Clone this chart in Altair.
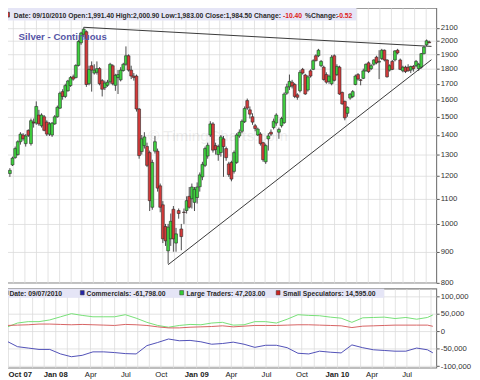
import altair as alt
import pandas as pd

# ---------------- data ----------------
last_date = "2010-09-10"

opens = [
    1210, 1250, 1285, 1300, 1365, 1400, 1355, 1425, 1355, 1470,
    1465, 1510, 1450, 1500, 1470, 1405, 1400, 1460, 1500, 1550,
    1650, 1620, 1655, 1688, 1745, 1740, 1822, 1985, 2050, 2070,
    1700, 1820, 1770, 1775, 1800, 1720, 1675, 1690, 1712, 1820,
    1690, 1740, 1725, 1787, 1830, 1890, 1790, 1750, 1750, 1545,
    1315, 1345, 1341, 1310, 1065, 1317, 1317, 1155, 1075, 990,
    903, 945, 1057, 930, 1052, 981, 1046, 1052, 1110, 1100,
    1085, 1105, 1151, 1195, 1248, 1293, 1400, 1460, 1345, 1300,
    1310, 1380, 1330, 1255, 1262, 1220, 1262, 1395, 1420, 1472,
    1595, 1540, 1500, 1450, 1400, 1405, 1360, 1265, 1380, 1415,
    1440, 1465, 1415, 1450, 1467, 1640, 1680, 1710, 1695, 1630,
    1655, 1795, 1757, 1660, 1785, 1795, 1890, 1890, 1820, 1810,
    1760, 1715, 1700, 1890, 1760, 1810, 1645, 1590, 1520, 1610,
    1620, 1695, 1760, 1725, 1735, 1785, 1840, 1800, 1830, 1880,
    1845, 1870, 1930, 1860, 1790, 1850, 1860, 1930, 1860, 1785,
    1810, 1810, 1790, 1815, 1820, 1800, 1810, 1905, 1970, 1991.4,
]
highs = [
    1235, 1290, 1340, 1372, 1415, 1410, 1405, 1430, 1490, 1490,
    1590, 1540, 1520, 1510, 1480, 1470, 1470, 1510, 1565, 1650,
    1665, 1700, 1725, 1750, 1760, 1830, 2005, 2070, 2105, 2080,
    1820, 1850, 1830, 1850, 1810, 1730, 1720, 1725, 1840, 1830,
    1765, 1790, 1810, 1840, 1958, 1900, 1820, 1770, 1760, 1550,
    1400, 1415, 1360, 1320, 1275, 1395, 1330, 1165, 1090, 1000,
    1000, 1040, 1070, 985, 1060, 1000, 1060, 1110, 1150, 1165,
    1150, 1170, 1215, 1265, 1340, 1360, 1475, 1470, 1360, 1350,
    1400, 1395, 1340, 1265, 1270, 1320, 1410, 1430, 1485, 1560,
    1607, 1560, 1520, 1460, 1440, 1415, 1365, 1355, 1410, 1430,
    1490, 1520, 1440, 1500, 1645, 1700, 1760, 1725, 1705, 1640,
    1790, 1805, 1765, 1755, 1795, 1865, 1900, 1940, 1860, 1820,
    1775, 1760, 1895, 1900, 1830, 1820, 1650, 1595, 1560, 1640,
    1660, 1760, 1770, 1730, 1800, 1835, 1850, 1830, 1865, 1890,
    1930, 1940, 1935, 1865, 1830, 1860, 1930, 1940, 1870, 1820,
    1820, 1830, 1820, 1825, 1860, 1840, 1910, 1960, 2010, 2000.9,
]
lows = [
    1195, 1245, 1280, 1295, 1350, 1370, 1340, 1390, 1345, 1440,
    1455, 1450, 1440, 1420, 1395, 1395, 1390, 1455, 1495, 1545,
    1600, 1610, 1650, 1680, 1720, 1735, 1815, 1970, 2030, 1680,
    1690, 1650, 1760, 1760, 1690, 1620, 1660, 1680, 1700, 1690,
    1655, 1635, 1715, 1780, 1820, 1780, 1730, 1720, 1530, 1280,
    1300, 1330, 1240, 1050, 1055, 1305, 1130, 1045, 930, 920,
    860, 920, 900, 900, 1020, 905, 1000, 1040, 1060, 1060,
    1050, 1080, 1130, 1180, 1240, 1280, 1390, 1310, 1300, 1270,
    1290, 1195, 1270, 1195, 1175, 1210, 1255, 1385, 1410, 1465,
    1540, 1490, 1455, 1420, 1395, 1345, 1265, 1255, 1320, 1395,
    1430, 1450, 1380, 1440, 1460, 1630, 1660, 1670, 1610, 1600,
    1645, 1760, 1630, 1650, 1740, 1790, 1850, 1880, 1810, 1720,
    1700, 1700, 1690, 1715, 1750, 1630, 1570, 1480, 1500, 1600,
    1610, 1690, 1720, 1690, 1730, 1780, 1770, 1790, 1820, 1830,
    1730, 1860, 1850, 1740, 1780, 1790, 1850, 1900, 1790, 1775,
    1770, 1780, 1770, 1780, 1810, 1785, 1800, 1900, 1960, 1983,
]
closes = [
    1225, 1283, 1330, 1365, 1405, 1380, 1395, 1398, 1478, 1465,
    1560, 1460, 1510, 1425, 1405, 1460, 1465, 1500, 1555, 1640,
    1620, 1688, 1718, 1740, 1730, 1822, 1995, 2060, 2090, 1695,
    1795, 1790, 1790, 1800, 1700, 1665, 1705, 1710, 1830, 1700,
    1755, 1760, 1790, 1830, 1890, 1790, 1750, 1740, 1545, 1295,
    1380, 1390, 1248, 1092, 1262, 1365, 1145, 1065, 945, 938,
    988, 1010, 945, 963, 1040, 953, 1044, 1092, 1065, 1150,
    1140, 1150, 1204, 1253, 1330, 1347, 1460, 1322, 1325, 1340,
    1390, 1340, 1285, 1205, 1185, 1310, 1400, 1415, 1475, 1548,
    1550, 1515, 1470, 1435, 1432, 1355, 1275, 1345, 1395, 1405,
    1475, 1510, 1430, 1490, 1635, 1680, 1715, 1685, 1620, 1615,
    1775, 1770, 1635, 1745, 1750, 1855, 1855, 1930, 1850, 1727,
    1710, 1750, 1880, 1722, 1815, 1635, 1575, 1494, 1555, 1635,
    1650, 1750, 1730, 1722, 1785, 1830, 1780, 1820, 1860, 1840,
    1850, 1930, 1860, 1745, 1820, 1795, 1925, 1910, 1795, 1810,
    1780, 1785, 1815, 1800, 1850, 1830, 1905, 1953, 2000, 1984.5,
]

cot_dates = [
    "2007-08-28", "2007-09-25", "2007-10-23", "2007-11-20", "2007-12-18",
    "2008-01-15", "2008-02-12", "2008-03-11", "2008-04-08", "2008-05-06",
    "2008-06-03", "2008-07-01", "2008-07-29", "2008-08-26", "2008-09-23",
    "2008-10-21", "2008-11-18", "2008-12-16", "2009-01-13", "2009-02-10",
    "2009-03-10", "2009-04-07", "2009-05-05", "2009-06-02", "2009-06-30",
    "2009-07-28", "2009-08-25", "2009-09-22", "2009-10-20", "2009-11-17",
    "2009-12-15", "2010-01-12", "2010-02-09", "2010-03-09", "2010-04-06",
    "2010-05-04", "2010-06-01", "2010-06-29", "2010-07-27", "2010-08-24",
    "2010-09-07",
]
commercials = [
    -28000, -44000, -48000, -52000, -52000, -65000, -73000, -69000, -59000, -59000,
    -61000, -64000, -65000, -41000, -32000, -22000, -27000, -26000, -30000, -37000,
    -35000, -31000, -37000, -46000, -40000, -40000, -47000, -63000, -65000, -57000,
    -60000, -62000, -39000, -47000, -53000, -55000, -57000, -57000, -48000, -53000,
    -61798,
]
large_traders = [
    12000, 24000, 28000, 28000, 33000, 42000, 51000, 46000, 42000, 42000,
    42000, 48000, 38000, 26000, 17000, 12000, 17000, 20000, 19000, 24000,
    26000, 18000, 19000, 28000, 28000, 24000, 35000, 48000, 46000, 45000,
    41000, 38000, 26000, 39000, 40000, 41000, 37000, 40000, 35000, 40000,
    47203,
]
small_speculators = [
    17000, 18000, 19000, 21000, 21000, 20000, 19000, 20000, 19000, 18000,
    17000, 20000, 19000, 17000, 13000, 10000, 10000, 12000, 13000, 14000,
    16000, 13000, 15000, 17000, 17000, 17000, 18000, 19000, 19000, 18000,
    17000, 16000, 11000, 15000, 16000, 17000, 18000, 18000, 18000, 18000,
    14595,
]

series_names = ["Commercials", "Large Traders", "Small Speculators"]
series_colors = ["#4b4bb5", "#72df72", "#d55f5f"]

price_ticks = [800, 900, 1000, 1100, 1200, 1300, 1400, 1500, 1600, 1700,
               1800, 1900, 2000, 2100]
cot_ticks = [-100000, -50000, 0, 50000, 100000]

trend_from = ["2008-03-07", "2008-10-17"]
trend_from_val = [2105, 857]
trend_to = ["2010-09-16", "2010-09-16"]
trend_to_val = [1958, 1862]

# ---------------- build ----------------
FONT = "Liberation Sans"
GREEN = "#3fd03f"
RED = "#d43a3a"
DARK = "#2a2a2a"
BAND = "#e5e5f6"
W, H_TOP, H_BOT = 449, 285, 82

dates = pd.date_range(end=last_date, periods=len(opens), freq="7D")
price = pd.DataFrame({"date": dates, "open": opens, "high": highs,
                      "low": lows, "close": closes})

cot = pd.DataFrame({"date": pd.to_datetime(cot_dates),
                    "Commercials": commercials,
                    "Large Traders": large_traders,
                    "Small Speculators": small_speculators})
cot_long = cot.melt("date", var_name="series", value_name="value")

trend = pd.DataFrame({"d1": pd.to_datetime(trend_from), "v1": trend_from_val,
                      "d2": pd.to_datetime(trend_to), "v2": trend_to_val})

xscale = alt.Scale(domain=[alt.DateTime(year=2007, month=8, date=19),
                           alt.DateTime(year=2010, month=9, date=16)], nice=False)
months = pd.date_range("2007-09-01", "2010-09-01", freq="MS")
month_vals = [alt.DateTime(year=m.year, month=m.month, date=1) for m in months]

top_xaxis = alt.Axis(values=month_vals, labels=False, ticks=False, domain=False,
                     grid=True, title=None)
ylog = alt.Scale(type="log", domain=[800, 2265], nice=False)
top_yaxis = alt.Axis(orient="right", values=price_ticks, format="d", tickSize=3,
                     domain=False, grid=True, labelPadding=1, title=None)

one = pd.DataFrame({"k": [0]})


def px_text(txt, x, y, size=7, color=DARK, weight="bold"):
    return alt.Chart(one).mark_text(align="left", baseline="alphabetic",
                                    fontSize=size, fontWeight=weight,
                                    color=color, font=FONT).encode(
        x=alt.value(x), y=alt.value(y), text=alt.value(txt))


def px_rect(x1, x2, y1, y2, fill, stroke=None, sw=0.0):
    kw = {"fill": fill}
    if stroke:
        kw.update(stroke=stroke, strokeWidth=sw)
    return alt.Chart(one).mark_rect(**kw).encode(
        x=alt.value(x1), x2=alt.value(x2), y=alt.value(y1), y2=alt.value(y2))


watermark = alt.Chart(one).mark_text(align="left", baseline="middle", fontSize=16,
                                     color="#000000", opacity=0.06, font=FONT).encode(
    x=alt.value(150), y=alt.value(133), text=alt.value("\u00a9 TimingCharts.com"))

wicks = alt.Chart(price).mark_rule(color="#333333", strokeWidth=0.9).encode(
    x=alt.X("date:T", scale=xscale, axis=top_xaxis),
    y=alt.Y("low:Q", scale=ylog, axis=top_yaxis),
    y2="high:Q")

bodies = alt.Chart(price).mark_bar(size=3.0, stroke=DARK, strokeWidth=0.6).encode(
    x=alt.X("date:T", scale=xscale, axis=top_xaxis),
    y=alt.Y("open:Q", scale=ylog, axis=top_yaxis),
    y2="close:Q",
    color=alt.condition("datum.close >= datum.open", alt.value(GREEN), alt.value(RED)))

trend_lines = alt.Chart(trend).mark_rule(color="#333333", strokeWidth=1).encode(
    x=alt.X("d1:T", scale=xscale, axis=top_xaxis),
    x2="d2:T",
    y=alt.Y("v1:Q", scale=ylog, axis=top_yaxis),
    y2="v2:Q")

top = alt.layer(
    watermark,
    wicks,
    bodies,
    trend_lines,
    px_rect(0, 366, 0, 13, BAND),
    px_rect(1.5, 6.5, 4.5, 9.5, "#d83030", "#333333", 0.7),
    px_text("Date: 09/10/2010 Open:1,991.40 High:2,000.90 Low:1,983.00 Close:1,984.50 Change:", 11, 10),
    px_text("-10.40", 290, 10, color="#dd2222"),
    px_text("%Change:", 313, 10),
    px_text("-0.52", 346, 10, color="#dd2222"),
    px_text("Silver - Continuous", 16, 33, size=10, color="#5656a6"),
).properties(width=W, height=H_TOP)

bot_xaxis = alt.Axis(
    values=month_vals, ticks=False, domain=False, grid=True, title=None,
    labelOverlap=False, labelFlush=False, labelPadding=3, labelFontSize=8,
    labelColor="#222222",
    labelExpr=("month(datum.value) % 3 == 0 ? "
               "((month(datum.value) == 0 || year(datum.value) == 2007) ? "
               "timeFormat(datum.value, '%b %y') : timeFormat(datum.value, '%b')) : ''"),
    labelFontWeight={"condition": {"test": "month(datum.value) == 0 || year(datum.value) == 2007",
                                   "value": "bold"}, "value": "normal"},
)
cot_axis = alt.Axis(
    orient="right", values=cot_ticks, tickSize=3, domain=False, grid=True,
    labelPadding=1, title=None,
    labelExpr="(datum.value < 0 ? '-' : '') + format(abs(datum.value), ',')")

lines = alt.Chart(cot_long).mark_line(strokeWidth=1).encode(
    x=alt.X("date:T", scale=xscale, axis=bot_xaxis),
    y=alt.Y("value:Q", scale=alt.Scale(domain=[-104700, 123000], nice=False, zero=False),
            axis=cot_axis),
    color=alt.Color("series:N", scale=alt.Scale(domain=series_names, range=series_colors),
                    legend=None),
    detail="series:N")

bottom = alt.layer(
    lines,
    px_rect(0, 395, 0, 9.5, BAND),
    px_rect(1, 5, 2, 6.5, "#ffffff", "#333333", 0.7),
    px_text("Date: 09/07/2010", 6.5, 7.5),
    px_rect(80, 84, 2, 6.5, "#2424a8", "#333333", 0.5),
    px_text("Commercials: -61,798.00", 86.5, 7.5),
    px_rect(183, 187, 2, 6.5, "#33cc33", "#333333", 0.5),
    px_text("Large Traders: 47,203.00", 190, 7.5),
    px_rect(283, 287, 2, 6.5, "#cc2222", "#333333", 0.5),
    px_text("Small Speculators: 14,595.00", 290, 7.5),
).properties(width=W, height=H_BOT)

chart = alt.vconcat(top, bottom, spacing=0).properties(
    padding={"left": -6, "top": -8, "right": 0, "bottom": 0},
    background="#ffffff",
).configure_view(
    stroke="#7c7c7c", strokeWidth=1.2
).configure_axis(
    gridColor="#dadada", gridWidth=0.8, labelFont=FONT, labelFontSize=8,
    labelColor="#333333", tickColor="#555555"
).configure_concat(spacing=0)

chart.save("out.html", embed_options={"renderer": "svg", "actions": False})
